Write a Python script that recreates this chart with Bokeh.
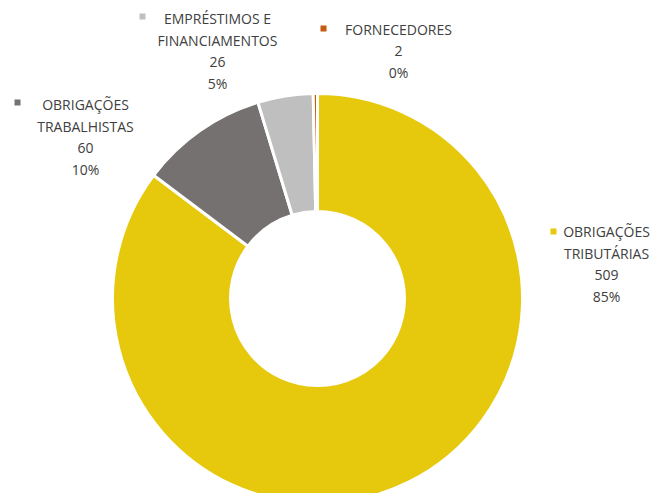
import numpy as np
from bokeh.plotting import figure
from bokeh.models import Range1d, ColumnDataSource
from bokeh.core.properties import value
from bokeh.embed import file_html
from bokeh.resources import INLINE

categories = ["OBRIGAÇÕES TRIBUTÁRIAS", "OBRIGAÇÕES TRABALHISTAS", "EMPRÉSTIMOS E FINANCIAMENTOS", "FORNECEDORES"]
label_lines = [["OBRIGAÇÕES", "TRIBUTÁRIAS"], ["OBRIGAÇÕES", "TRABALHISTAS"], ["EMPRÉSTIMOS E", "FINANCIAMENTOS"], ["FORNECEDORES"]]
values = [509, 60, 26, 2]
percents = ["85%", "10%", "5%", "0%"]
colors = ["#E6C90D", "#767171", "#BFBFBF", "#C55A11"]

W, H = 659, 493
p = figure(width=W, height=H, output_backend="svg", toolbar_location=None,
           x_range=Range1d(0, W), y_range=Range1d(-H, 0),
           x_axis_location=None, y_axis_location=None, min_border=0)
p.grid.visible = False
p.outline_line_color = None

vals = np.array(values, dtype=float)
total = vals.sum()
cum = np.concatenate([[0], np.cumsum(vals)]) / total
start = np.pi / 2 - 2 * np.pi * cum[1:]
end = np.pi / 2 - 2 * np.pi * cum[:-1]
cx, cy = 317, -298
src = ColumnDataSource(dict(start=start, end=end, color=colors))
p.annular_wedge(x=cx, y=cy, inner_radius=87, outer_radius=205, start_angle="start", end_angle="end",
                fill_color="color", line_color="white", line_width=3, source=src)

# label layout (image pixel positions): marker x,y ; text centre x, first line y
label_pos = [(553, 231, 606, 231), (17, 102, 85, 104), (142, 16, 217, 18), (323, 28, 398, 29)]
lh = 21.5
tx, ty, tt = [], [], []
for i in range(len(values)):
    mx, my, cxl, ly = label_pos[i]
    lines = label_lines[i] + [str(values[i]), percents[i]]
    for j, t in enumerate(lines):
        tx.append(cxl); ty.append(-(ly + j * lh)); tt.append(t)
    p.scatter([mx], [-my], marker="square", size=6, fill_color=colors[i], line_color=None)

p.text(x=tx, y=ty, text=tt, text_align="center", text_baseline="middle",
       text_font=value("Open Sans"), text_font_size="14px", text_color="#404040")

open("out.html", "w").write(file_html(p, INLINE))
